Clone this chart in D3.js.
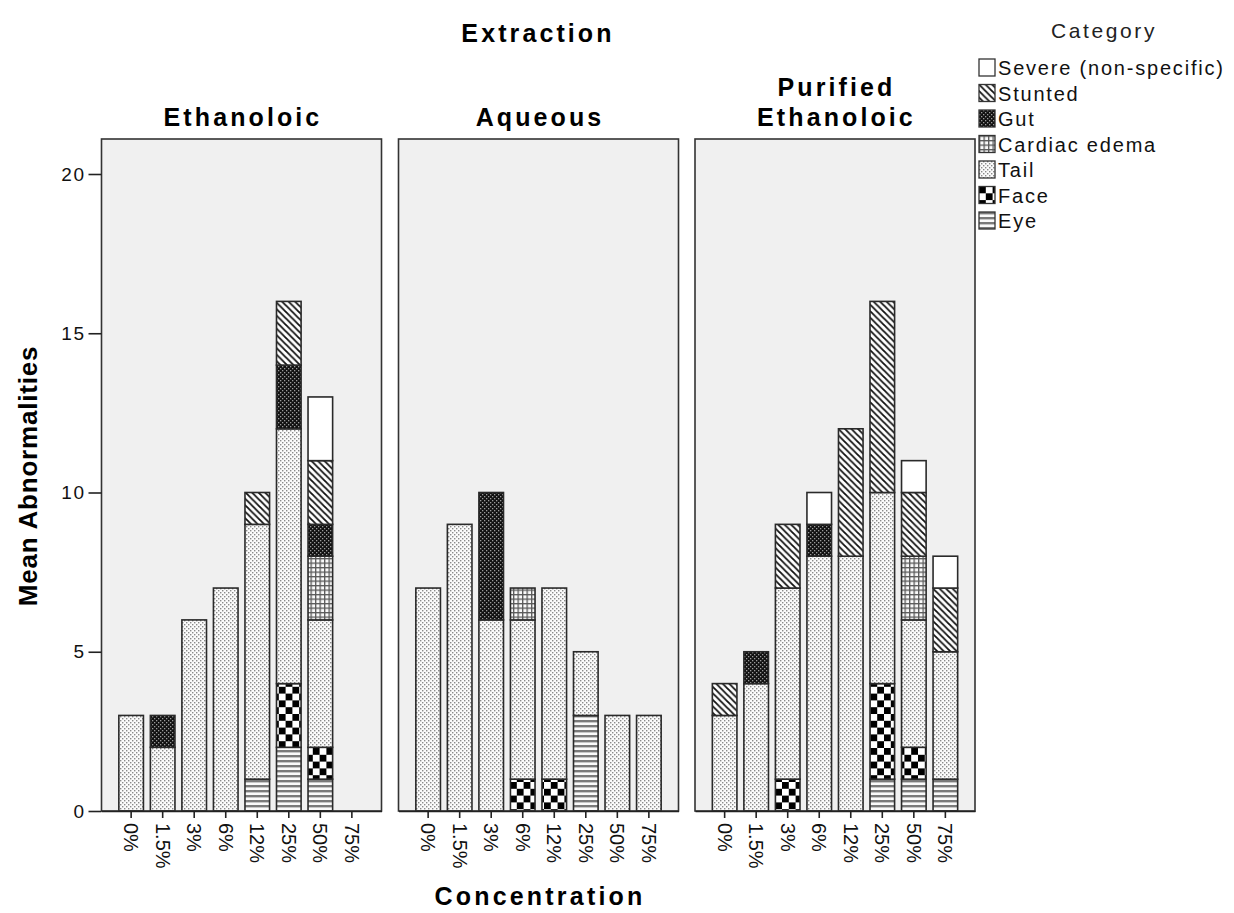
<!DOCTYPE html>
<html>
<head>
<meta charset="utf-8">
<script src="https://cdn.jsdelivr.net/npm/d3@7"></script>
<style>
  html, body { margin: 0; padding: 0; background: #fff; }
  svg { display: block; font-family: "Liberation Sans", Arial, sans-serif; }
</style>
</head>
<body>
<svg id="chart" width="1234" height="913"></svg>
<script>
// ---------- data ----------
const concentrations = ["0%", "1.5%", "3%", "6%", "12%", "25%", "50%", "75%"];
const extractions = ["Ethanoloic", "Aqueous", "Purified Ethanoloic"];
// stacking order (bottom to top)
const categories = ["Eye", "Face", "Tail", "Cardiac edema", "Gut", "Stunted", "Severe (non-specific)"];
// legend order (top to bottom)
const legendOrder = ["Severe (non-specific)", "Stunted", "Gut", "Cardiac edema", "Tail", "Face", "Eye"];
const yTicks = [0, 5, 10, 15, 20];

// one row per extraction (Ethanoloic, Aqueous, Purified Ethanoloic), one value per concentration
const eye = [
  [0, 0, 0, 0, 1, 2, 1, 0],
  [0, 0, 0, 0, 0, 3, 0, 0],
  [0, 0, 0, 0, 0, 1, 1, 1]
];
const face = [
  [0, 0, 0, 0, 0, 2, 1, 0],
  [0, 0, 0, 1, 1, 0, 0, 0],
  [0, 0, 1, 0, 0, 3, 1, 0]
];
const tail = [
  [3, 2, 6, 7, 8, 8, 4, 0],
  [7, 9, 6, 5, 6, 2, 3, 3],
  [3, 4, 6, 8, 8, 6, 4, 4]
];
const cardiacEdema = [
  [0, 0, 0, 0, 0, 0, 2, 0],
  [0, 0, 0, 1, 0, 0, 0, 0],
  [0, 0, 0, 0, 0, 0, 2, 0]
];
const gut = [
  [0, 1, 0, 0, 0, 2, 1, 0],
  [0, 0, 4, 0, 0, 0, 0, 0],
  [0, 1, 0, 1, 0, 0, 0, 0]
];
const stunted = [
  [0, 0, 0, 0, 1, 2, 2, 0],
  [0, 0, 0, 0, 0, 0, 0, 0],
  [1, 0, 2, 0, 4, 6, 2, 2]
];
const severe = [
  [0, 0, 0, 0, 0, 0, 2, 0],
  [0, 0, 0, 0, 0, 0, 0, 0],
  [0, 0, 0, 1, 0, 0, 1, 1]
];
const seriesByCategory = {
  "Eye": eye, "Face": face, "Tail": tail, "Cardiac edema": cardiacEdema,
  "Gut": gut, "Stunted": stunted, "Severe (non-specific)": severe
};
const patternId = {
  "Eye": "p-eye", "Face": "p-face", "Tail": "p-tail", "Cardiac edema": "p-cardiac",
  "Gut": "p-gut", "Stunted": "p-stunted", "Severe (non-specific)": "p-severe"
};

// ---------- layout ----------
const svg = d3.select("#chart");
const panelLefts = [101.5, 398.5, 695];
const panelWidth = 280;
const panelTop = 139, panelBottom = 811;

const y = d3.scaleLinear().domain([0, 20]).range([panelBottom, 174]);

// ---------- patterns ----------
const defs = svg.append("defs");
function pat(id, w, h) {
  return defs.append("pattern").attr("id", id).attr("patternUnits", "userSpaceOnUse")
    .attr("width", w).attr("height", h);
}
// Tail: light dots
{
  const p = pat("p-tail", 4, 4);
  p.append("rect").attr("width", 4).attr("height", 4).attr("fill", "#fbfbfb");
  p.append("rect").attr("x", 0).attr("y", 0).attr("width", 1.4).attr("height", 1.4).attr("fill", "#8a8a8a");
  p.append("rect").attr("x", 2).attr("y", 2).attr("width", 1.4).attr("height", 1.4).attr("fill", "#8a8a8a");
}
// Gut: dark with light dots
{
  const p = pat("p-gut", 4, 4);
  p.append("rect").attr("width", 4).attr("height", 4).attr("fill", "#111");
  p.append("rect").attr("x", 0).attr("y", 0).attr("width", 1.3).attr("height", 1.3).attr("fill", "#9a9a9a");
  p.append("rect").attr("x", 2).attr("y", 2).attr("width", 1.3).attr("height", 1.3).attr("fill", "#9a9a9a");
}
// Cardiac edema: grid
{
  const p = pat("p-cardiac", 4.5, 4.5);
  p.append("rect").attr("width", 4.5).attr("height", 4.5).attr("fill", "#fafafa");
  p.append("rect").attr("x", 0).attr("y", 0).attr("width", 4.5).attr("height", 1.3).attr("fill", "#5a5a5a");
  p.append("rect").attr("x", 0).attr("y", 0).attr("width", 1.3).attr("height", 4.5).attr("fill", "#5a5a5a");
}
// Face: checkerboard
{
  const s = 6.8;
  const p = pat("p-face", 2 * s, 2 * s);
  p.append("rect").attr("width", 2 * s).attr("height", 2 * s).attr("fill", "#fff");
  p.append("rect").attr("x", 0).attr("y", 0).attr("width", s).attr("height", s).attr("fill", "#000");
  p.append("rect").attr("x", s).attr("y", s).attr("width", s).attr("height", s).attr("fill", "#000");
}
// Eye: horizontal lines
{
  const p = pat("p-eye", 4, 5);
  p.append("rect").attr("width", 4).attr("height", 5).attr("fill", "#fafafa");
  p.append("rect").attr("x", 0).attr("y", 0).attr("width", 4).attr("height", 2.4).attr("fill", "#7a7a7a");
}
// Stunted: diagonal "\" lines
{
  const s = 6.5;
  const p = pat("p-stunted", s, s);
  p.append("rect").attr("width", s).attr("height", s).attr("fill", "#fff");
  p.append("path").attr("d", `M-1,-1 L${s + 1},${s + 1} M${-1 - s},-1 L${1},${s + 1} M${s - 1},-1 L${2 * s + 1},${s + 1}`)
    .attr("stroke", "#111").attr("stroke-width", 1.8);
}
// Severe: plain white
{
  const p = pat("p-severe", 4, 4);
  p.append("rect").attr("width", 4).attr("height", 4).attr("fill", "#fff");
}

// ---------- titles ----------
svg.append("text").attr("x", 538).attr("y", 42).attr("text-anchor", "middle")
  .attr("font-size", 25).attr("font-weight", "bold").attr("letter-spacing", 3.1)
  .text("Extraction");

const panelTitles = [["Ethanoloic"], ["Aqueous"], ["Purified", "Ethanoloic"]];

// ---------- panels ----------
const stack = d3.stack().keys(categories);

extractions.forEach((ext, e) => {
  const left = panelLefts[e];
  const x = d3.scaleBand().domain(concentrations)
    .range([left, left + panelWidth]).paddingInner(0.22).paddingOuter(0.55);

  const g = svg.append("g");
  // background
  g.append("rect").attr("x", left).attr("y", panelTop)
    .attr("width", panelWidth).attr("height", panelBottom - panelTop)
    .attr("fill", "#f0f0f0");

  // panel title
  const lines = panelTitles[e];
  lines.forEach((t, i) => {
    g.append("text").attr("x", left + panelWidth / 2 + 1.5)
      .attr("y", 126 - (lines.length - 1 - i) * 30)
      .attr("text-anchor", "middle").attr("font-size", 25).attr("font-weight", "bold")
      .attr("letter-spacing", 3.1)
      .text(t);
  });

  // data rows
  const rows = concentrations.map((c, i) => {
    const r = { conc: c };
    categories.forEach(k => { r[k] = seriesByCategory[k][e][i]; });
    return r;
  });
  const stacked = stack(rows);

  stacked.forEach(layer => {
    g.append("g").selectAll("rect")
      .data(layer.filter(d => d[1] - d[0] > 0))
      .join("rect")
      .attr("x", d => x(d.data.conc))
      .attr("width", x.bandwidth())
      .attr("y", d => y(d[1]))
      .attr("height", d => y(d[0]) - y(d[1]))
      .attr("fill", `url(#${patternId[layer.key]})`)
      .attr("stroke", "#2a2a2a")
      .attr("stroke-width", 1.6);
  });

  // frame
  g.append("rect").attr("x", left).attr("y", panelTop)
    .attr("width", panelWidth).attr("height", panelBottom - panelTop)
    .attr("fill", "none").attr("stroke", "#333").attr("stroke-width", 1.6);

  // x axis
  const xAxis = d3.axisBottom(x).tickSize(7).tickSizeOuter(0);
  const ax = g.append("g").attr("transform", `translate(0,${panelBottom})`).call(xAxis);
  ax.select(".domain").attr("stroke", "#222").attr("stroke-width", 1.6);
  ax.selectAll(".tick line").attr("stroke", "#222").attr("stroke-width", 1.6);
  ax.selectAll(".tick text")
    .attr("font-size", 20).attr("font-family", "Liberation Sans, Arial, sans-serif")
    .attr("fill", "#111")
    .attr("text-anchor", "start")
    .attr("transform", "rotate(90)")
    .attr("x", 12).attr("y", 0).attr("dy", "0.35em");

  // y axis on first panel only
  if (e === 0) {
    const yAxis = d3.axisLeft(y).tickValues(yTicks).tickSize(13).tickSizeOuter(0);
    const ay = g.append("g").attr("transform", `translate(${left},0)`).call(yAxis);
    ay.select(".domain").remove();
    ay.selectAll(".tick line").attr("stroke", "#222").attr("stroke-width", 1.6);
    ay.selectAll(".tick text").attr("font-size", 19).attr("letter-spacing", 1.5)
      .attr("font-family", "Liberation Sans, Arial, sans-serif")
      .attr("fill", "#111").attr("x", -16);
  }
});

// axis titles
svg.append("text").attr("transform", "translate(37,476) rotate(-90)")
  .attr("text-anchor", "middle").attr("font-size", 26).attr("font-weight", "bold")
  .attr("letter-spacing", 0.8)
  .text("Mean Abnormalities");
svg.append("text").attr("x", 540).attr("y", 905).attr("text-anchor", "middle")
  .attr("font-size", 25).attr("font-weight", "bold").attr("letter-spacing", 3.2)
  .text("Concentration");

// ---------- legend ----------
const legend = svg.append("g");
legend.append("text").attr("x", 1104).attr("y", 38).attr("text-anchor", "middle")
  .attr("font-size", 21).attr("letter-spacing", 2.6).attr("fill", "#222").text("Category");
const li = legend.selectAll("g.item").data(legendOrder).join("g")
  .attr("class", "item")
  .attr("transform", (d, i) => `translate(979,${59 + i * 25.5})`);
li.append("rect").attr("width", 16).attr("height", 17)
  .attr("fill", d => `url(#${patternId[d]})`)
  .attr("stroke", "#333").attr("stroke-width", 1.3);
li.append("text").attr("x", 19).attr("y", 9).attr("dy", "0.36em")
  .attr("font-size", 20).attr("letter-spacing", 1.8).attr("fill", "#111").text(d => d);
</script>
</body>
</html>
